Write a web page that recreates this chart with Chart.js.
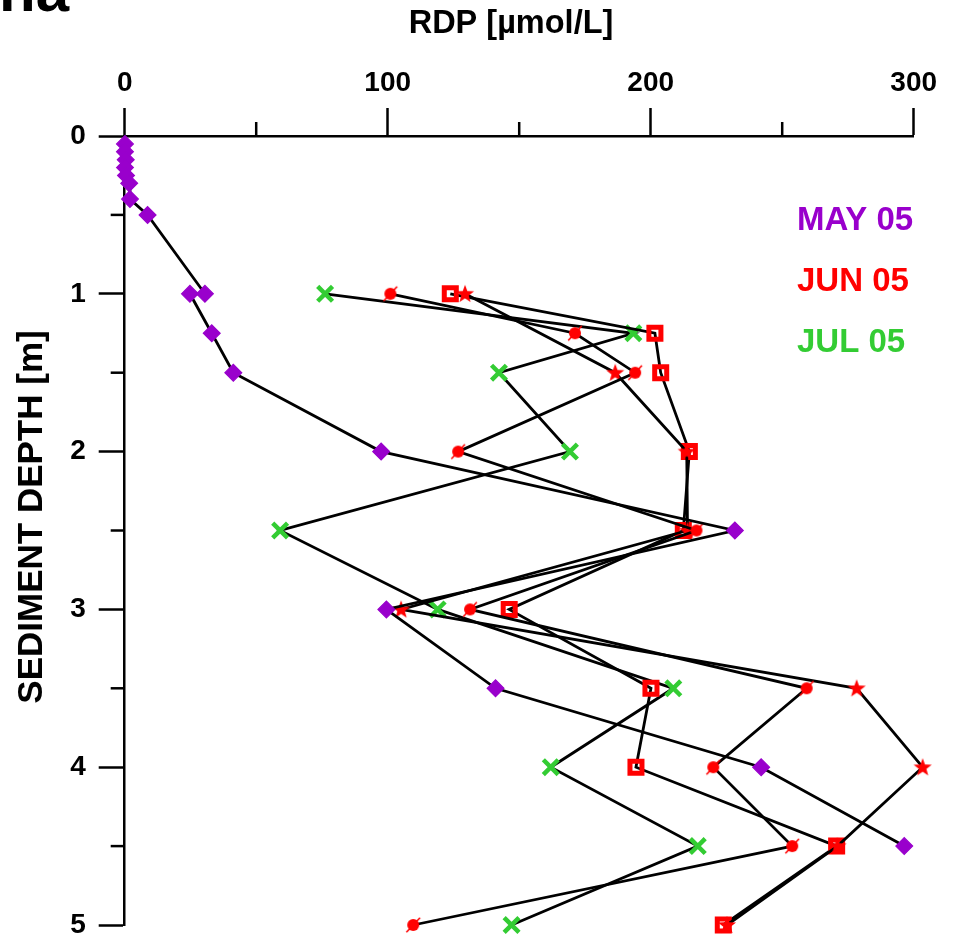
<!DOCTYPE html>
<html>
<head>
<meta charset="utf-8">
<script src="https://cdn.jsdelivr.net/npm/chart.js@4.4.0/dist/chart.umd.min.js"></script>
<style>
  html, body { margin: 0; padding: 0; background: #fff; }
  canvas { display: block; }
</style>
</head>
<body>
<canvas id="chart" width="962" height="940"></canvas>
<script>
// depth [m] and RDP [umol/L]
const mayDepth = [0.05, 0.1, 0.15, 0.2, 0.25, 0.3, 0.4, 0.5, 1, 1, 1.25, 1.5, 2, 2.5, 3, 3.5, 4, 4.5];
const mayRdp   = [0.1, 0.1, 0.4, 0.1, 0.5, 1.7, 2.0, 8.7, 30.5, 24.8, 33.1, 41.3, 97.5, 232, 99.5, 141, 242, 296.4];

const junDepth       = [1, 1.25, 1.5, 2, 2.5, 3, 3.5, 4, 4.5, 5];
const junCircleRdp   = [101, 171.2, 194.1, 126.8, 217.4, 131.3, 259.3, 223.8, 253.8, 109.7];
const junSquareRdp   = [123.8, 201.6, 203.8, 214.7, 212.4, 146.2, 200.1, 194.4, 270.7, 227.6];
const junStarDepth   = [1, 1.5, 2, 2.5, 3, 3.5, 4, 4.5, 5];
const junStarRdp     = [129.4, 186.5, 213.7, 214, 105.1, 278.3, 303.4, 271, 229];

const julDepth = [1, 1.25, 1.5, 2, 2.5, 3, 3.5, 4, 4.5, 5];
const julRdp   = [76.2, 193.4, 142.3, 169.3, 59.1, 119, 208.6, 162, 217.9, 147.1];

const xTicks = [0, 100, 200, 300];
const yTicks = [0, 1, 2, 3, 4, 5];
const legendNames = ['MAY 05', 'JUN 05', 'JUL 05'];

const PURPLE = '#9900cc';
const RED = '#ff0000';
const GREEN = '#33cc33';
const FONT = "'Liberation Sans', Arial, sans-serif";

function pts(depths, values) {
    return values.map((v, i) => ({ x: v, y: depths[i] }));
}

// filled five point star
function makeStar() {
    const c = document.createElement('canvas');
    c.width = 22; c.height = 22;
    const g = c.getContext('2d');
    g.fillStyle = RED;
    g.beginPath();
    for (let i = 0; i < 10; i++) {
        const r = i % 2 === 0 ? 9.5 : 3.9;
        const a = -Math.PI / 2 + i * Math.PI / 5;
        const px = 11 + r * Math.cos(a), py = 11.5 + r * Math.sin(a);
        if (i === 0) g.moveTo(px, py); else g.lineTo(px, py);
    }
    g.closePath();
    g.fill();
    return c;
}

// dot with a thin slash through it
function makeSlashDot() {
    const c = document.createElement('canvas');
    c.width = 22; c.height = 22;
    const g = c.getContext('2d');
    g.fillStyle = RED;
    g.beginPath();
    g.arc(11, 11, 6, 0, Math.PI * 2);
    g.fill();
    g.strokeStyle = RED;
    g.lineWidth = 1.6;
    g.beginPath();
    g.moveTo(4.2, 18.2);
    g.lineTo(17.8, 3.8);
    g.stroke();
    return c;
}

const lineStyle = { showLine: true, borderColor: '#000', borderWidth: 2.8, clip: false, tension: 0 };

const datasets = [
    {
        ...lineStyle, label: 'MAY 05', data: pts(mayDepth, mayRdp),
        pointStyle: 'rectRot', pointRadius: 8.4, pointBackgroundColor: PURPLE,
        pointBorderColor: PURPLE, pointBorderWidth: 1.2
    },
    {
        ...lineStyle, label: 'JUN 05', data: pts(junDepth, junCircleRdp),
        pointStyle: makeSlashDot(), pointRadius: 8
    },
    {
        ...lineStyle, label: 'JUN 05', data: pts(junStarDepth, junStarRdp),
        pointStyle: makeStar(), pointRadius: 8
    },
    {
        ...lineStyle, label: 'JUN 05', data: pts(junDepth, junSquareRdp),
        pointStyle: 'rect', pointRadius: 8.5, pointBackgroundColor: 'rgba(0,0,0,0)',
        pointBorderColor: RED, pointBorderWidth: 5
    },
    {
        ...lineStyle, label: 'JUL 05', data: pts(julDepth, julRdp),
        pointStyle: 'crossRot', pointRadius: 10.5, pointBorderColor: GREEN,
        pointBorderWidth: 4.5
    }
];

// short minor ticks, titles and the text legend
const decorations = {
    id: 'decorations',
    afterDraw(chart) {
        const ctx = chart.ctx;
        const xs = chart.scales.x, ys = chart.scales.y;
        ctx.save();
        ctx.strokeStyle = '#000';
        ctx.lineWidth = 2.5;
        xs.ticks.forEach(t => {
            if (xTicks.includes(t.value)) return;
            const px = xs.getPixelForValue(t.value);
            ctx.beginPath();
            ctx.moveTo(px, xs.bottom);
            ctx.lineTo(px, xs.bottom - 14);
            ctx.stroke();
        });
        ys.ticks.forEach(t => {
            if (yTicks.includes(t.value)) return;
            const py = ys.getPixelForValue(t.value);
            ctx.beginPath();
            ctx.moveTo(ys.right, py);
            ctx.lineTo(ys.right - 14, py);
            ctx.stroke();
        });

        ctx.fillStyle = '#000';
        ctx.textAlign = 'center';
        ctx.textBaseline = 'middle';
        ctx.font = `bold 32.5px ${FONT}`;
        ctx.fillText('RDP [µmol/L]', 511, 24);

        ctx.save();
        ctx.translate(32, 517);
        ctx.rotate(-Math.PI / 2);
        ctx.font = `bold 35px ${FONT}`;
        ctx.fillText('SEDIMENT DEPTH [m]', 0, 0);
        ctx.restore();

        // cut off panel letter at the top left corner
        ctx.textAlign = 'left';
        ctx.textBaseline = 'alphabetic';
        ctx.font = `bold 60px ${FONT}`;
        ctx.fillText('na', -1, 11);

        const colors = [PURPLE, RED, GREEN];
        const rows = [221, 282, 343];
        ctx.font = `bold 33px ${FONT}`;
        ctx.textBaseline = 'middle';
        legendNames.forEach((name, i) => {
            ctx.fillStyle = colors[i];
            ctx.fillText(name, 797, rows[i]);
        });
        ctx.restore();
    }
};

const tickFont = { family: FONT, size: 28, weight: 'bold' };

new Chart(document.getElementById('chart'), {
    type: 'scatter',
    data: { datasets },
    options: {
        responsive: false,
        animation: false,
        layout: { padding: { left: 0, top: 0, right: 48.3, bottom: 15 } },
        plugins: { legend: { display: false }, tooltip: { enabled: false } },
        scales: {
            x: {
                type: 'linear', position: 'top', min: 0, max: 300,
                ticks: {
                    stepSize: 50, autoSkip: false, maxRotation: 0, color: '#000', font: tickFont, padding: 8,
                    callback: v => xTicks.includes(v) ? String(v) : ''
                },
                grid: {
                    drawOnChartArea: false, drawTicks: true, tickLength: 28, tickWidth: 2.5,
                    tickColor: c => (c.tick && xTicks.includes(c.tick.value)) ? '#000' : 'rgba(0,0,0,0)'
                },
                border: { display: true, color: '#000', width: 2.5 },
                afterFit: s => {
                    s.height = 136;
                    s.paddingLeft = 0; s.paddingRight = 0;
                }
            },
            y: {
                type: 'linear', reverse: true, min: 0, max: 5,
                ticks: {
                    stepSize: 0.5, autoSkip: false, color: '#000', font: tickFont, padding: 13,
                    callback: v => yTicks.includes(v) ? String(v) : ''
                },
                grid: {
                    drawOnChartArea: false, drawTicks: true, tickLength: 26, tickWidth: 2.5,
                    tickColor: c => (c.tick && yTicks.includes(c.tick.value)) ? '#000' : 'rgba(0,0,0,0)'
                },
                border: { display: true, color: '#000', width: 2.5 },
                afterFit: s => {
                    s.width = 124.7;
                    s.paddingTop = 0; s.paddingBottom = 0;
                }
            }
        }
    },
    plugins: [decorations]
});
</script>
</body>
</html>
